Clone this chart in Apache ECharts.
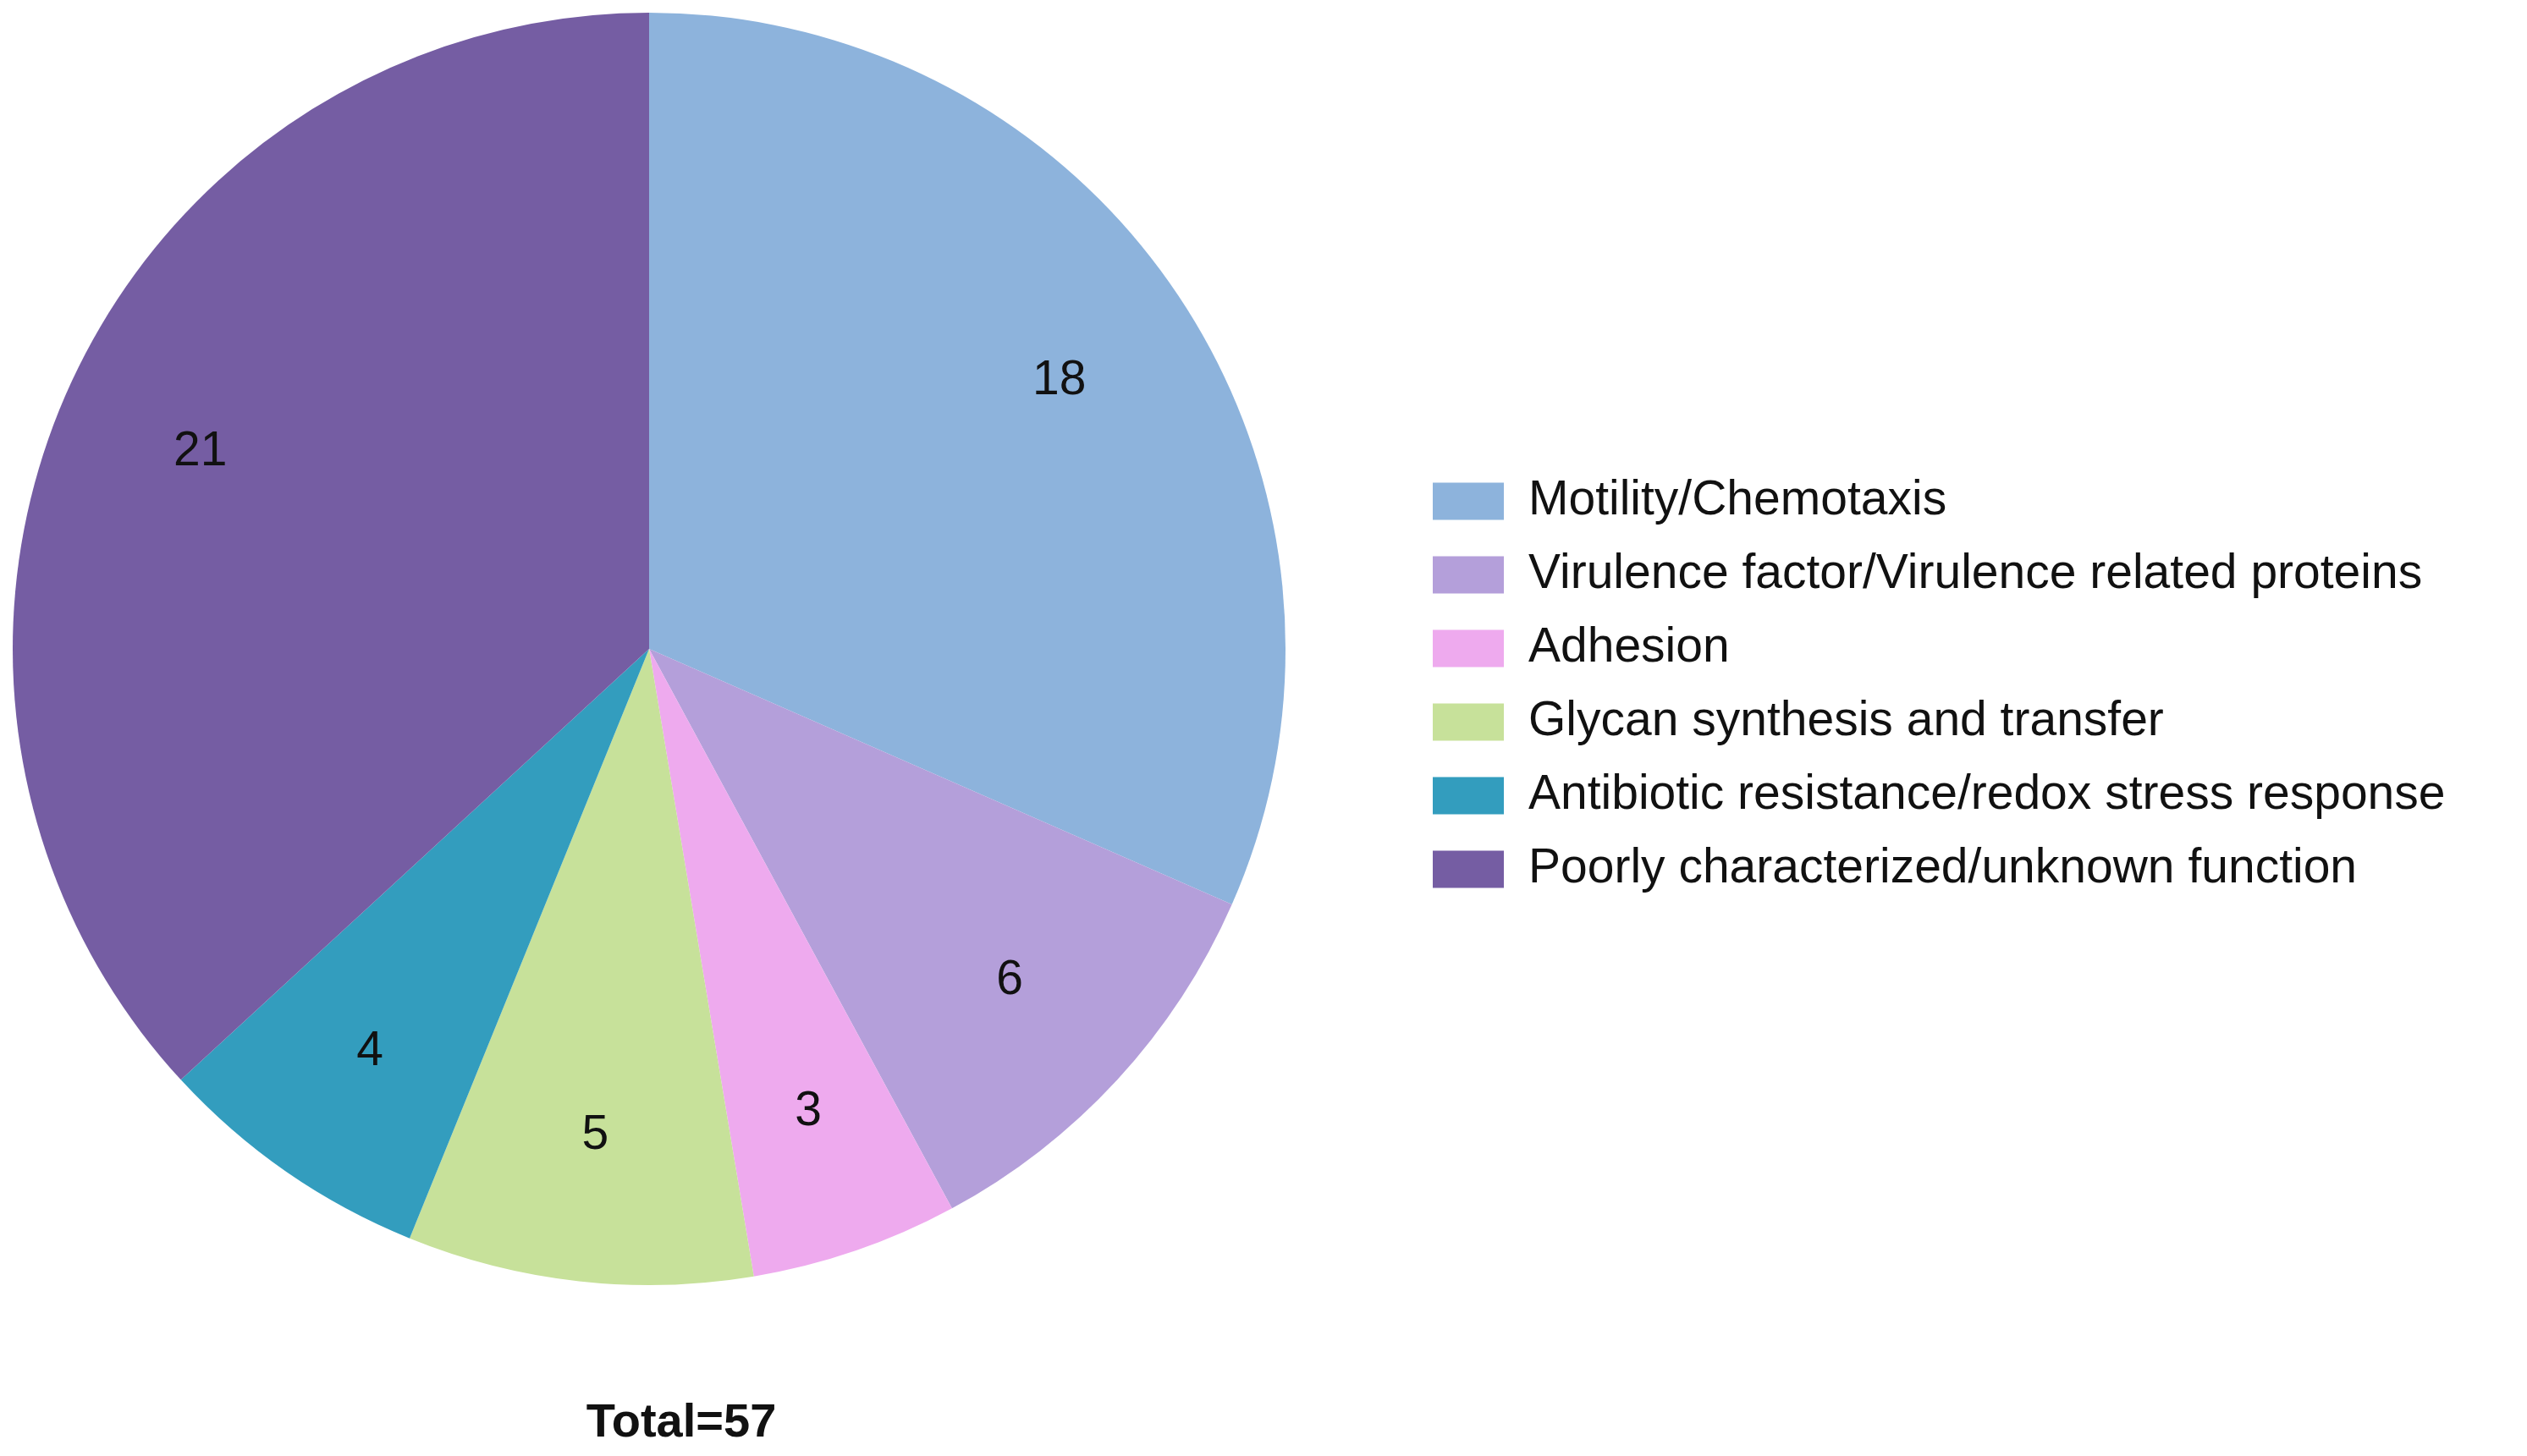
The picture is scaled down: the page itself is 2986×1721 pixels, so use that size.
<!DOCTYPE html>
<html>
<head>
<meta charset="utf-8">
<script src="https://cdn.jsdelivr.net/npm/echarts@6/dist/echarts.min.js"></script>
<style>html,body{margin:0;padding:0;background:#fff}#chart{width:2986px;height:1721px}</style>
</head>
<body>
<div id="chart"></div>
<script>
const categories = [
  'Motility/Chemotaxis',
  'Virulence factor/Virulence related proteins',
  'Adhesion',
  'Glycan synthesis and transfer',
  'Antibiotic resistance/redox stress response',
  'Poorly characterized/unknown function'
];
const counts = [18, 6, 3, 5, 4, 21];
const colors = ['#8DB3DC', '#B49FDA', '#EEAAEE', '#C7E19A', '#339DBE', '#755DA3'];
const totalLabel = 'Total=57';

const chart = echarts.init(document.getElementById('chart'));
const pieData = categories.map((name, i) => ({ name, value: counts[i], itemStyle: { color: colors[i] } }));
const font = 'Liberation Sans, Arial, sans-serif';

chart.setOption({
  animation: false,
  legend: {
    orient: 'vertical',
    left: 1688,
    top: 559,
    itemWidth: 84,
    itemHeight: 44,
    itemGap: 30,
    selectedMode: false,
    icon: 'rect',
    data: categories,
    textStyle: { fontFamily: font, fontSize: 57, color: '#111', lineHeight: 44, padding: [0, 0, 0, 24] }
  },
  title: {
    text: totalLabel,
    left: 800,
    top: 1650,
    textAlign: 'center',
    textStyle: { fontFamily: font, fontSize: 56, fontWeight: 'bold', color: '#111' }
  },
  series: [
    {
      type: 'pie',
      center: [767, 767],
      radius: [0, 752],
      startAngle: 90,
      clockwise: true,
      silent: true,
      label: { show: false },
      labelLine: { show: false },
      data: pieData
    },
    {
      type: 'pie',
      center: [767, 767],
      radius: [400, 752],
      startAngle: 90,
      clockwise: true,
      silent: true,
      itemStyle: { color: 'transparent' },
      label: { show: true, position: 'inside', formatter: '{c}', fontFamily: font, fontSize: 57, color: '#111' },
      labelLine: { show: false },
      data: categories.map((name, i) => ({ name, value: counts[i], itemStyle: { color: 'rgba(0,0,0,0)' } }))
    }
  ]
});
</script>
</body>
</html>
